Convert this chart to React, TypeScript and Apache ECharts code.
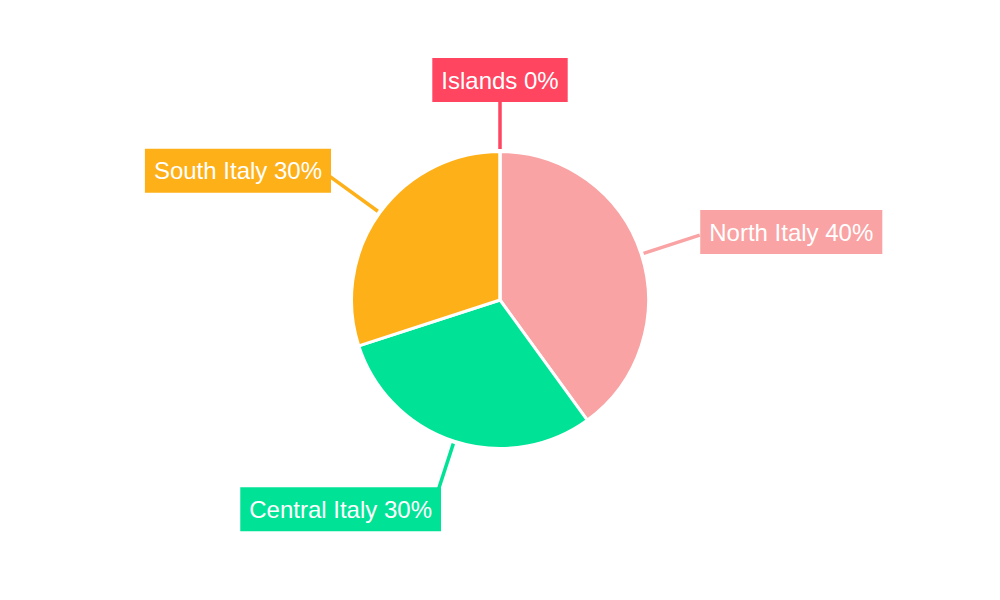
import { useEffect, useRef } from 'react';
import * as echarts from 'echarts';

// Share of sales by region
const regions = ['North Italy', 'Central Italy', 'South Italy', 'Islands'];
const shares = [40, 30, 30, 0];
const colors = ['#F9A3A4', '#00E396', '#FEB019', '#FF4560'];

const WIDTH = 1000;
const HEIGHT = 600;
const CX = WIDTH / 2;
const CY = HEIGHT / 2;
const RADIUS = 148.5;
const LINE_START = 151;
const LINE_END = 210;
const TEXT_R = 220;
const PAD_X = 9;

// Angle (clockwise from 12 o'clock) at the middle of each slice
function midAngles(values: number[]): number[] {
  const total = values.reduce((a, b) => a + b, 0);
  let acc = 0;
  return values.map((v) => {
    const start = acc;
    acc += v;
    return ((start + v / 2) / total) * Math.PI * 2;
  });
}

export default function App() {
  const ref = useRef<HTMLDivElement>(null);

  useEffect(() => {
    document.body.style.margin = '0';
    if (!ref.current) return;
    const chart = echarts.init(ref.current, undefined, { renderer: 'svg' });
    const mids = midAngles(shares);

    chart.setOption({
      animation: false,
      backgroundColor: '#ffffff',
      color: colors,
      series: [
        {
          type: 'pie',
          center: [CX, CY],
          radius: RADIUS,
          startAngle: 90,
          clockwise: true,
          avoidLabelOverlap: false,
          minShowLabelAngle: 0,
          data: regions.map((name, i) => ({ name, value: shares[i] })),
          itemStyle: { borderColor: '#ffffff', borderWidth: 3 },
          emphasis: { disabled: true },
          label: {
            show: true,
            position: 'outside',
            formatter: (p: any) => `${p.name} ${p.value}%`,
            color: '#ffffff',
            fontSize: 24,
            lineHeight: 24,
            fontFamily: '"Liberation Sans", Arial, Helvetica, sans-serif',
            backgroundColor: 'inherit',
            padding: [10, PAD_X],
          },
          labelLine: {
            show: true,
            length: 60,
            length2: 0,
            lineStyle: { width: 3.5 },
          },
          labelLayout: (params: any) => {
            const a = mids[params.dataIndex];
            const s = Math.sin(a);
            const c = Math.cos(a);
            const align = s > 0.05 ? 'left' : s < -0.05 ? 'right' : 'center';
            const shift = align === 'left' ? -PAD_X : align === 'right' ? PAD_X : 0;
            return {
              x: align === 'center' ? CX : CX + TEXT_R * s + shift,
              y: CY - TEXT_R * c,
              align,
              verticalAlign: 'middle',
              labelLinePoints: [
                [CX + LINE_START * s, CY - LINE_START * c],
                [CX + LINE_END * s, CY - LINE_END * c],
              ],
            };
          },
        },
      ],
    });

    return () => chart.dispose();
  }, []);

  return <div ref={ref} style={{ width: WIDTH, height: HEIGHT }} />;
}
